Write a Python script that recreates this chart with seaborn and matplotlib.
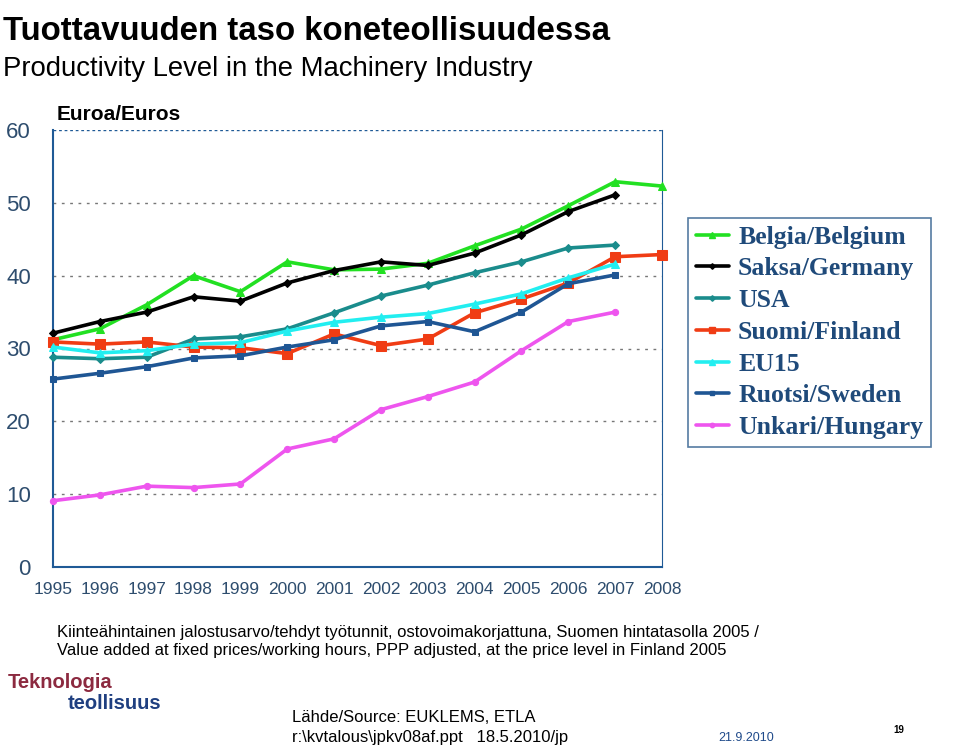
import numpy as np
import pandas as pd
import seaborn as sns
import matplotlib.pyplot as plt
from matplotlib.lines import Line2D

years = list(range(1995, 2009))
belgium = [31.2, 32.7, 36.0, 40.0, 37.8, 41.9, 40.8, 40.9, 41.7, 44.1, 46.4, 49.6, 52.9, 52.3]
germany = [32.1, 33.7, 35.0, 37.1, 36.5, 39.0, 40.7, 41.9, 41.4, 43.1, 45.6, 48.8, 51.1, np.nan]
usa = [28.8, 28.6, 28.8, 31.3, 31.6, 32.7, 34.9, 37.2, 38.7, 40.4, 41.9, 43.8, 44.2, np.nan]
finland = [30.9, 30.6, 30.9, 30.2, 30.1, 29.3, 32.0, 30.4, 31.3, 34.9, 36.8, 39.0, 42.6, 42.9]
eu15 = [30.2, 29.4, 29.7, 30.6, 30.8, 32.4, 33.6, 34.3, 34.8, 36.1, 37.5, 39.7, 41.6, np.nan]
sweden = [25.8, 26.6, 27.5, 28.7, 29.0, 30.2, 31.2, 33.1, 33.7, 32.3, 35.0, 38.9, 40.1, np.nan]
hungary = [9.1, 9.9, 11.1, 10.9, 11.4, 16.2, 17.6, 21.6, 23.4, 25.4, 29.7, 33.7, 35.0, np.nan]

labels = ["Belgia/Belgium", "Saksa/Germany", "USA", "Suomi/Finland",
          "EU15", "Ruotsi/Sweden", "Unkari/Hungary"]
series = [belgium, germany, usa, finland, eu15, sweden, hungary]
colors = ["#22e022", "#000000", "#1a8c8c", "#f03c14", "#22eef0", "#1f5694", "#ee55ee"]
markers = ["^", "D", "D", "s", "^", "s", "o"]
msizes = [6, 4, 4, 6.5, 5.5, 5, 4.5]

sns.set_style("white")
plt.rcParams['font.family'] = ['Liberation Sans', 'DejaVu Sans']

fig = plt.figure(figsize=(9.6, 7.45), dpi=100)
ax = fig.add_axes([53 / 960, 1 - 567 / 745, (662 - 53) / 960, (567 - 130) / 745])

axis_blue = "#1f5a96"
for lab, vals, c, m, ms in zip(labels, series, colors, markers, msizes):
    df = pd.DataFrame({"year": years, "value": vals}).dropna()
    sns.lineplot(data=df, x="year", y="value", ax=ax, color=c, lw=2.6,
                 marker=m, markersize=ms, markeredgecolor=c, label=lab,
                 clip_on=False, zorder=3)

ax.set_xlim(1995, 2008)
ax.set_ylim(0, 60)
ax.set_xticks(years)
ax.set_xticklabels([str(y) for y in years], fontsize=12.5, color="#2e4d6e")
ax.set_yticks(range(0, 70, 10))
ax.set_yticklabels([str(v) for v in range(0, 70, 10)], fontsize=16,
                   color="#2e4d6e")
ax.set_xlabel("")
ax.set_ylabel("")
ax.tick_params(axis="both", direction="out", length=6, color=axis_blue, width=1.2)
ax.tick_params(axis="y", pad=10)
ax.tick_params(axis="x", pad=5)
for v in range(10, 60, 10):
    ax.axhline(v, color="#777777", lw=1, ls=(0, (2, 4)), zorder=1)
ax.axhline(60, color=axis_blue, lw=1, ls=(0, (2, 2)), zorder=1)
for side in ["left", "bottom"]:
    ax.spines[side].set_color(axis_blue)
    ax.spines[side].set_linewidth(1.5)
ax.spines["right"].set_color(axis_blue)
ax.spines["right"].set_linewidth(0.8)
ax.spines["top"].set_visible(False)

handles = [Line2D([0], [0], color=c, lw=2.6, marker=m, markersize=ms * 0.7,
                  markeredgecolor=c)
           for c, m, ms in zip(colors, markers, msizes)]
leg = ax.legend(handles, labels, loc="upper left",
                bbox_to_anchor=(688 / 960, 1 - 218 / 745),
                bbox_transform=fig.transFigure, frameon=True, fancybox=False,
                edgecolor="#2a5a8a", handlelength=1.3, handletextpad=0.35,
                labelspacing=0.34, borderpad=0.3, borderaxespad=0,
                prop={"family": "Liberation Serif", "weight": "bold", "size": 18.5})
leg.get_frame().set_linewidth(1.2)
for t in leg.get_texts():
    t.set_color("#1f4a7a")

fig.text(3 / 960, 1 - 40 / 745, "Tuottavuuden taso koneteollisuudessa",
         fontsize=23.8, fontweight="bold", color="black")
fig.text(3 / 960, 1 - 76 / 745, "Productivity Level in the Machinery Industry",
         fontsize=19.8, color="black")
fig.text(57 / 960, 1 - 120 / 745, "Euroa/Euros", fontsize=15,
         fontweight="bold", color="black")

fig.text(57 / 960, 1 - 637 / 745,
         "Kiinteähintainen jalostusarvo/tehdyt työtunnit, ostovoimakorjattuna, "
         "Suomen hintatasolla 2005 /", fontsize=12, color="black")
fig.text(57 / 960, 1 - 655 / 745,
         "Value added at fixed prices/working hours, PPP adjusted, at the price "
         "level in Finland 2005", fontsize=12, color="black")

fig.text(8 / 960, 1 - 688 / 745, "Teknologia", fontsize=14.5,
         fontweight="bold", color="#8c2a40")
fig.text(68 / 960, 1 - 709 / 745, "teollisuus", fontsize=14.5,
         fontweight="bold", color="#1f3f80")

fig.text(292 / 960, 1 - 722 / 745, "Lähde/Source: EUKLEMS, ETLA",
         fontsize=12, color="black")
fig.text(292 / 960, 1 - 742 / 745, "r:\\kvtalous\\jpkv08af.ppt   18.5.2010/jp",
         fontsize=12, color="black")
fig.text(718 / 960, 1 - 741 / 745, "21.9.2010", fontsize=9, color="#1f4a8a")
fig.text(893 / 960, 1 - 733 / 745, "19", fontsize=7, fontweight="bold",
         color="black")

fig.savefig("out.png", dpi=100)
